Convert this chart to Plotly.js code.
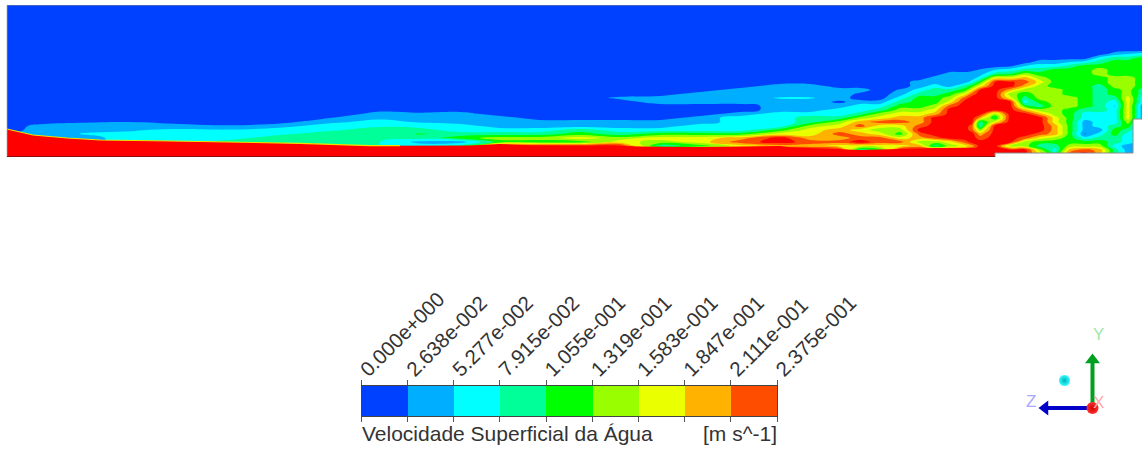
<!DOCTYPE html>
<html>
<head>
<meta charset="utf-8">
<script src="https://cdn.plot.ly/plotly-3.0.1.min.js"></script>
<style>html,body{margin:0;padding:0;background:#fff}</style>
</head>
<body>
<div id="chart" style="width:1142px;height:450px"></div>
<script>
// Band index of the water velocity, one array per x station.
const rowsY = [5,50,54,58,62,66,70,74,78,82,86,90,94,98,102,106,110,114,118,122,126,130,134,138,142,146,150,154,157];
const colsX = [7,40,80,130,180,230,280,330,380,420,460,500,540,580,620,660,700,740,780,810,840,860,880,900,920,935,950,965,972,980,995,1010,1025,1040,1055,1070,1085,1100,1115,1128,1142];
const c7   = [0,0,0,0,0,0,0,0,0,0,0,0,0,0,0,0,0,0,0,0,0,0,.3,.3,.3,.3,.3,.3,.3];
const c40  = [0,0,0,0,0,0,0,0,0,0,0,0,0,0,0,0,0,0,0,.1,.8,1,1,1,1,1,1,1,1];
const c80  = [0,0,0,0,0,0,0,0,0,0,0,0,0,0,0,0,0,0,0,.4,.9,1.2,1.5,1.3,1.3,1.3,1.3,1.3,1.3];
const c130 = [0,0,0,0,0,0,0,0,0,0,0,0,0,0,0,0,0,0,0,.5,.95,1.4,1.7,1.7,1.7,1.7,1.7,1.7,1.7];
const c180 = [0,0,0,0,0,0,0,0,0,0,0,0,0,0,0,0,0,0,0,.2,.8,1.7,1.9,2,2,2,2,2,2];
const c230 = [0,0,0,0,0,0,0,0,0,0,0,0,0,0,0,0,0,0,0,0,.6,1.6,1.9,2.3,2.7,2.7,2.7,2.7,2.7];
const c280 = [0,0,0,0,0,0,0,0,0,0,0,0,0,0,0,0,0,0,0,.1,1.2,1.9,2.4,2.8,3,3,3,3,3];
const c330 = [0,0,0,0,0,0,0,0,0,0,0,0,0,0,0,0,0,0,.5,1.3,1.9,2.4,2.8,3,3,3,3,3,3];
const c380 = [0,0,0,0,0,0,0,0,0,0,0,0,0,0,0,0,.3,.8,1.3,1.8,2.4,2.8,3,3,2.5,2.5,2.5,2.5,2.5];
const c420 = [0,0,0,0,0,0,0,0,0,0,0,0,0,0,0,0,.1,.7,1.1,1.4,2.1,2.9,3.6,2.9,1.2,2,2,2,2];
const c460 = [0,0,0,0,0,0,0,0,0,0,0,0,0,0,0,0,0,1,1,1,2,2,3,4,1,3,9,9,9];
const c500 = [0,0,0,0,0,0,0,0,0,0,0,0,0,0,0,0,0,0,1,1,1,2,3,5,4,9,9,9,9];
const c540 = [0,0,0,0,0,0,0,0,0,0,0,0,0,0,0,0,0,0,0,1,1,2,3,5,4,9,9,9,9];
const c580 = [0,0,0,0,0,0,0,0,0,0,0,0,0,0,0,0,0,0,0,1,1,3,4,6,4,9,9,9,9];
const c620 = [0,0,0,0,0,0,0,0,0,0,0,0,0,.7,0,0,0,0,0,1,1,2,3,5,6,9,9,9,9];
const c660 = [0,0,0,0,0,0,0,0,0,0,0,0,0,1,1,0,0,0,0,1,1,2,4,6,5,3,9,9,9];
const c700 = [0,0,0,0,0,0,0,0,0,0,0,0,1,1,1,0,0,0,1,1,2,2,4,6,6,4,9,9,9];
const c740 = [0,0,0,0,0,0,0,0,0,0,0,1,1,1,1,0,0,1,2,2,2,2,4,7,8,6,9,9,9];
const c780 = [0,0,0,0,0,0,0,0,0,0,1,1,1,1.6,1,1,1,2,2,2,2,4,6,9,9,7,9,9,9];
const c810 = [0,0,0,0,0,0,0,0,0,0,1,1,1,1.6,1,1,1,2,3,3,5,6,6,7,8,7,9,9,9];
const c840 = [0,0,0,0,0,0,0,0,0,0,0,1,1,1,.3,1,2,2,3,5,6,7,8,7,8,6,9,9,9];
const c860 = [0,0,0,0,0,0,0,0,0,0,0,1,.3,0,1,2,2,3,5,7,8,6,7,8,9,6,3,9,9];
const c880 = [0,0,0,0,0,0,0,0,0,0,0,0,0,0,1,2,3,5,6,8,6,5,6,8,8,6,4,9,9];
const c900 = [0,0,0,0,0,0,0,0,0,0,0,.6,1,2,3,4,5,6,7,8,6,5,4,6,8,6,9,9,9];
const c920 = [0,0,0,0,0,0,0,0,0,1,1,2,3,4,4,4,5,6,7,7,8,9,8,7,5,7,9,9,9];
const c935 = [0,0,0,0,0,0,0,0,1,1,2,3,3,4,4,5,6,7,9,9,9,9,9,8,5,3,9,9,9];
const c950 = [0,0,0,0,0,0,0,1,1,1,1,3,4,5,6,8,9,9,9,9,9,9,9,9,6,5,9,9,9];
const c965 = [0,0,0,0,0,0,0,1,1,1,3,4,6,8,9,9,9,9,9,9,9,9,9,9,8,6,9,9,9];
const c972 = [0,0,0,0,0,0,.3,1,1,2,4,6,8,9,9,9,9,9,9,9,8,8,9,9,9,7,9,9,9];
const c980 = [0,0,0,0,0,0,.6,1,2,4,6,8.6,9,9,9,9,9,9,7,3,2.5,5,7,8,9,9,9,9,9];
const c995 = [0,0,0,0,0,0,1.5,3,6,8.6,9,9,9,9,9,9,9,5,3.5,6,9,9,9,9,9,9,9,9,9];
const c1010 = [0,0,0,0,0,.3,2,3.5,6,8.7,9,7,5,6,9,9,9,9,9,9,9,9,9,9,9,5,9,9,9];
const c1025 = [0,0,0,0,0,1.5,3,5,7,8,7,5,4,3,2,4,7,9,9,9,9,9,9,8,5,5,9,9,9];
const c1040 = [0,0,0,0,1,2,3,4,5,6,5,5,5,5,4,3,5,7,9,9,9,9,8,6,4,3,5,6,6];
const c1055 = [0,0,0,0,1,2,4,4,4,4,4,5,5,5,5,5,5,5,6,6,7,7,7,5,4,3,2,3,3];
const c1070 = [0,0,0,0,1.5,3,4,4,4,4,4,4,4,5,5,5,4,4,4,4,4,4,4,4,4,5,7,8,8];
const c1085 = [0,0,0,0,2,4,4,4,4,4,4,4,4,4,4,4,3,2,2,1,1,1,.4,2,4,5,8,9,9];
const c1100 = [0,0,0,2,3,4,5,5,4,4,3,3,3,3,3,3,3,2,2,2,2,1,2,3,4,5,7,7,7];
const c1115 = [0,0,1,3,4,4,4,4,5,5,5,4,4,3,2,1.4,2,2,2,2,3,4,4,3,3,2,3,3,3];
const c1128 = [0,0,1.5,3,4,4,4,4,5,5,5,5,5,6,6,6,6,6,6,5,4,3,2,2,2,1,1,1,1];
const c1142 = [0,0,2,4,4,4,4,4,4,4,4,3,3,2,2,1,1,1,1,1,1,1,1,1,1,1,1,1,1];
const fieldColumns = [c7,c40,c80,c130,c180,c230,c280,c330,c380,c420,c460,c500,c540,c580,c620,c660,c700,c740,c780,c810,c840,c860,c880,c900,c920,c935,c950,c965,c972,c980,c995,c1010,c1025,c1040,c1055,c1070,c1085,c1100,c1115,c1128,c1142];

// Surface of the red layer along the bottom.
const bedX = [7,33,67,100,170,300,370,470,500,530,570,700,780,790,860,900,935,995,995,7];
const bedY = [129,135,138,140,141,143.3,145.7,145.5,144,145.5,146,147,146,147.3,150,149,148,148,157,157];
const rimX = [7,33,67,100,170,300,370,400];
const rimY = [129,135,138,140,141,143.3,145.7,145.6];

// Legend.
const legendTicks = [0,0.02638,0.05277,0.07915,0.1055,0.1319,0.1583,0.1847,0.2111,0.2375];
const legendLabels = ["0.000e+000","2.638e-002","5.277e-002","7.915e-002","1.055e-001","1.319e-001","1.583e-001","1.847e-001","2.111e-001","2.375e-001"];
const legendBands = [0,1,2,3,4,5,6,7,8];
const bandColors = ["#0040ff","#00aeff","#00ffff","#00ff99","#00ff00","#99ff00","#eaff00","#ffb300","#ff4d00","#ff0000"];

// Orientation triad, in page pixels.
const yArrowX = [1092.5,1092.5], yArrowY = [408,362];
const zArrowX = [1092.5,1048], zArrowY = [408,408];

function H(py){ return 1 - py/450; }
function W(px){ return px/1142; }

const scale = [];
bandColors.forEach((c,i)=>{
  scale.push([Math.max(0,(i-.5)/9), c]);
  scale.push([Math.min(1,(i+.5)/9), c]);
});
const legendScale = [];
legendBands.forEach(i=>{
  legendScale.push([i/9, bandColors[i]]);
  legendScale.push([(i+1)/9, bandColors[i]]);
});

const traces = [
  {type:'contour', x:colsX, y:rowsY, z:fieldColumns, transpose:true, xaxis:'x', yaxis:'y',
   zmin:0, zmax:9, zauto:false, colorscale:scale, showscale:false, hoverinfo:'skip', connectgaps:true,
   autocontour:false, contours:{start:.5,end:8.5,size:1,coloring:'fill',showlines:false},
   line:{width:0,smoothing:1.2}},
  {type:'scatter', mode:'lines', x:bedX, y:bedY, fill:'toself', fillcolor:'#ff0000',
   line:{color:'#ff0000',width:0}, xaxis:'x', yaxis:'y', hoverinfo:'skip', showlegend:false},
  {type:'scatter', mode:'lines', x:rimX, y:rimY, line:{color:'#f0e000',width:1.2}, xaxis:'x', yaxis:'y', hoverinfo:'skip', showlegend:false},
  {type:'heatmap', x:legendTicks, y:[0,1], z:[legendBands], xaxis:'x2', yaxis:'y2',
   zmin:0, zmax:9, colorscale:legendScale, showscale:false, hoverinfo:'skip', zsmooth:false},
  {type:'scatter', mode:'lines', x:yArrowX, y:yArrowY, xaxis:'x3', yaxis:'y3',
   line:{color:'#00a020',width:4}, hoverinfo:'skip', showlegend:false},
  {type:'scatter', mode:'markers', x:[1092.5], y:[360], xaxis:'x3', yaxis:'y3',
   marker:{symbol:'triangle-up',size:13,color:'#00a020'}, hoverinfo:'skip', showlegend:false},
  {type:'scatter', mode:'lines', x:zArrowX, y:zArrowY, xaxis:'x3', yaxis:'y3',
   line:{color:'#0000c8',width:4}, hoverinfo:'skip', showlegend:false},
  {type:'scatter', mode:'markers', x:[1045], y:[408], xaxis:'x3', yaxis:'y3',
   marker:{symbol:'triangle-left',size:13,color:'#0000c8'}, hoverinfo:'skip', showlegend:false},
  {type:'scatter', mode:'markers', x:[1092.5], y:[408], xaxis:'x3', yaxis:'y3',
   marker:{symbol:'circle',size:12,color:'#ff3030',gradient:{type:'radial',color:'#d00000'}}, hoverinfo:'skip', showlegend:false},
  {type:'scatter', mode:'markers', x:[1064.5], y:[380.5], xaxis:'x3', yaxis:'y3',
   marker:{symbol:'circle',size:11,color:'#30ffff',gradient:{type:'radial',color:'#00b0b8'}}, hoverinfo:'skip', showlegend:false}
];

const hidden = {visible:false, fixedrange:true, showgrid:false, zeroline:false};
const textFont = {family:'"Liberation Sans", Arial, sans-serif', color:'#333333'};
const layout = {
  width:1142, height:450, margin:{l:0,r:0,t:0,b:0},
  paper_bgcolor:'#ffffff', plot_bgcolor:'rgba(0,0,0,0)', showlegend:false,
  xaxis:Object.assign({},hidden,{domain:[W(6.5),1], range:[6.5,1142], anchor:'y'}),
  yaxis:Object.assign({},hidden,{domain:[H(157),H(5)], range:[157,5], anchor:'x'}),
  xaxis2:{domain:[W(361.5),W(777)], range:[0,0.2375], anchor:'y2', side:'top', tickmode:'array',
    tickvals:legendTicks, ticktext:legendLabels, tickangle:-45, ticks:'outside', ticklen:5,
    ticklabelstandoff:-9,
    tickcolor:'#555555', tickwidth:1, showline:true, linecolor:'#444444', mirror:'all', showgrid:false, zeroline:false,
    tickfont:Object.assign({},textFont,{size:20.5}), fixedrange:true},
  yaxis2:{domain:[H(416),H(386)], range:[0,1], anchor:'x2', showticklabels:false, ticks:'', showline:true,
    linecolor:'#444444', mirror:'all', showgrid:false, zeroline:false, fixedrange:true},
  xaxis3:Object.assign({},hidden,{domain:[0,1], range:[0,1142], anchor:'y3'}),
  yaxis3:Object.assign({},hidden,{domain:[0,1], range:[450,0], anchor:'x3'}),
  shapes:[
    {type:'rect', xref:'x', yref:'y', x0:995, x1:1142, y0:153, y1:157, fillcolor:'#ffffff', line:{width:0}, layer:'above'},
    {type:'rect', xref:'x', yref:'y', x0:1133, x1:1142, y0:119, y1:157, fillcolor:'#ffffff', line:{width:0}, layer:'above'},
    {type:'path', xref:'x', yref:'y', path:'M7,5 L1142,5 M1142,119 L1133,119 L1133,153 L995,153 L995,157 L7,157 L7,5', line:{color:'#8a8a8a',width:1}, layer:'above'},
    {type:'line', xref:'x', yref:'y', x0:7, x1:995, y0:156.7, y1:156.7, line:{color:'#800000',width:1}, layer:'above'}
  ],
  annotations:[
    {xref:'paper', yref:'paper', x:W(360), y:H(433), xanchor:'left', yanchor:'middle', showarrow:false,
     text:'Velocidade Superficial da Água', font:Object.assign({},textFont,{size:21})},
    {xref:'paper', yref:'paper', x:W(779), y:H(433), xanchor:'right', yanchor:'middle', showarrow:false,
     text:'[m s^-1]', font:Object.assign({},textFont,{size:21})},
    {xref:'paper', yref:'paper', x:W(1098), y:H(334), xanchor:'center', yanchor:'middle', showarrow:false, text:'Y', font:{family:'"Liberation Sans", Arial, sans-serif',size:17,color:'#9fe8a8'}},
    {xref:'paper', yref:'paper', x:W(1031), y:H(401), xanchor:'center', yanchor:'middle', showarrow:false, text:'Z', font:{family:'"Liberation Sans", Arial, sans-serif',size:17,color:'#a8a8ff'}},
    {xref:'paper', yref:'paper', x:W(1098), y:H(402), xanchor:'center', yanchor:'middle', showarrow:false, text:'X', font:{family:'"Liberation Sans", Arial, sans-serif',size:17,color:'#ffa8a8'}}
  ]
};
Plotly.newPlot('chart', traces, layout, {displayModeBar:false, staticPlot:true});
</script>
</body>
</html>
